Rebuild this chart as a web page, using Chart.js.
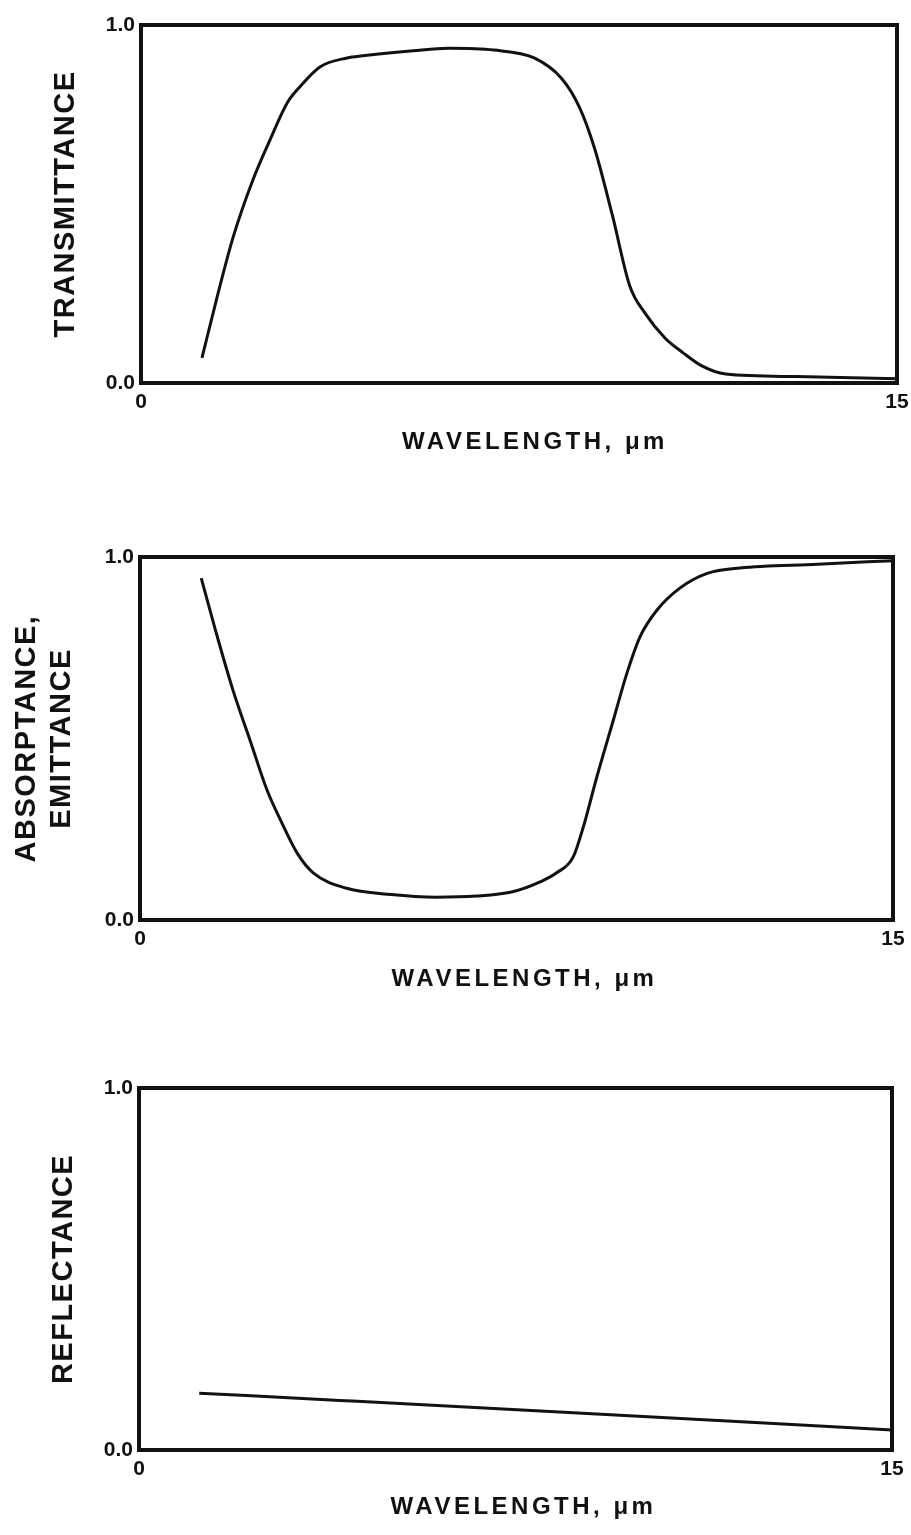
<!DOCTYPE html>
<html>
<head>
<meta charset="utf-8">
<script src="https://cdn.jsdelivr.net/npm/chart.js@4/dist/chart.umd.min.js"></script>
<style>
  body { margin: 0; background: #fff; width: 911px; height: 1535px; position: relative; overflow: hidden; }
  .panel { position: absolute; left: 0; width: 911px; }
</style>
</head>
<body>
<div class="panel" id="p1" style="top:0px;height:456px"><canvas id="c1"></canvas></div>
<div class="panel" id="p2" style="top:530px;height:463px"><canvas id="c2"></canvas></div>
<div class="panel" id="p3" style="top:1060px;height:461px"><canvas id="c3"></canvas></div>
<script>
// wavelength (um) and curve values
var transX = [1.21, 1.51, 1.83, 2.22, 2.56, 2.9, 3.15, 3.55, 4.09, 4.4, 5.4, 6.1, 7.0, 7.8, 8.35, 8.7, 9.0, 9.35, 9.7, 10.0, 10.4, 10.75, 11.1, 11.6, 13.0, 15.0]
var transY = [0.07, 0.24, 0.408, 0.567, 0.679, 0.782, 0.827, 0.883, 0.908, 0.914, 0.928, 0.935, 0.93, 0.908, 0.85, 0.77, 0.655, 0.47, 0.27, 0.195, 0.125, 0.085, 0.05, 0.025, 0.018, 0.012]

var absX = [1.22, 1.5, 1.85, 2.2, 2.53, 2.8, 3.15, 3.45, 4.1, 5.0, 5.9, 6.7, 7.4, 7.97, 8.3, 8.63, 8.83, 9.1, 9.43, 9.7, 9.96, 10.3, 10.76, 11.3, 11.95, 13.5, 15.0]
var absY = [0.942, 0.8, 0.634, 0.492, 0.358, 0.275, 0.18, 0.13, 0.088, 0.07, 0.063, 0.066, 0.077, 0.105, 0.13, 0.174, 0.256, 0.394, 0.551, 0.68, 0.78, 0.854, 0.915, 0.955, 0.97, 0.98, 0.99]

var reflX = [1.2, 4.0, 8.0, 12.0, 15.0]
var reflY = [0.157, 0.137, 0.108, 0.078, 0.055]

var xTicks = [0, 15]
var yTicks = [0, 1]
var xTitle = 'WAVELENGTH, \u03bcm'

function toPoints(xs, ys) {
    var pts = []
    for (var i = 0; i < xs.length; ++i) {
        pts.push({ x: xs[i], y: ys[i] })
    }
    return pts
}

// draw an axis title with extra letter spacing (stencil lettering), nudged by dx
function spacedTitle(px, dx) {
    return function (scale) {
        if (scale._spaced) return
        scale._spaced = true
        var draw = scale.drawTitle
        scale.drawTitle = function () {
            var ctx = this.ctx
            ctx.save()
            ctx.translate(dx, 0)
            ctx.letterSpacing = px + 'px'
            draw.call(this)
            ctx.letterSpacing = '0px'
            ctx.restore()
        }
    }
}

var boxPlugin = {
    id: 'box',
    afterDatasetsDraw: function (chart) {
        var a = chart.chartArea
        var ctx = chart.ctx
        ctx.save()
        ctx.lineWidth = 4
        ctx.strokeStyle = '#111'
        ctx.strokeRect(a.left, a.top, a.right - a.left, a.bottom - a.top)
        ctx.restore()
    }
}

function makeChart(id, xs, ys, yTitle, lay) {
    return new Chart(document.getElementById(id), {
        type: 'line',
        data: {
            datasets: [{
                data: toPoints(xs, ys),
                borderColor: '#111',
                borderWidth: 3,
                pointRadius: 0,
                fill: false,
                cubicInterpolationMode: 'monotone'
            }]
        },
        options: {
            responsive: true,
            maintainAspectRatio: false,
            animation: false,
            layout: { padding: { top: lay.top, right: lay.right, left: 0, bottom: 0 } },
            plugins: { legend: { display: false }, tooltip: { enabled: false } },
            scales: {
                x: {
                    type: 'linear',
                    min: 0,
                    max: 15,
                    grid: { display: false, drawTicks: false },
                    border: { display: false },
                    afterBuildTicks: function (scale) {
                        scale.ticks = xTicks.map(function (v) { return { value: v } })
                    },
                    afterFit: function (scale) {
                        scale.height = lay.xHeight
                        scale.paddingLeft = 0
                        scale.paddingRight = 0
                    },
                    afterUpdate: spacedTitle(3.5, lay.titleDx),
                    ticks: {
                        padding: 7,
                        color: '#111',
                        maxRotation: 0,
                        font: { family: 'Liberation Sans', size: 21, weight: 'bold' },
                        callback: function (v) { return String(v) }
                    },
                    title: {
                        display: true,
                        text: xTitle,
                        color: '#111',
                        padding: { top: 0, bottom: 0 },
                        font: { family: 'Liberation Sans', size: 24, weight: 'bold', lineHeight: 1.1 }
                    }
                },
                y: {
                    min: 0,
                    max: 1,
                    grid: { display: false, drawTicks: false },
                    border: { display: false },
                    afterBuildTicks: function (scale) {
                        scale.ticks = yTicks.map(function (v) { return { value: v } })
                    },
                    afterFit: function (scale) {
                        scale.width = lay.left
                    },
                    afterUpdate: spacedTitle(1.5, 0),
                    ticks: {
                        padding: 6,
                        color: '#111',
                        font: { family: 'Liberation Sans', size: 21, weight: 'bold' },
                        callback: function (v) { return Number(v).toFixed(1) }
                    },
                    title: {
                        display: true,
                        text: yTitle,
                        color: '#111',
                        padding: { top: lay.titlePad, bottom: 0 },
                        font: { family: 'Liberation Sans', size: 29, weight: 'bold', lineHeight: 1.2 }
                    }
                }
            }
        },
        plugins: [boxPlugin]
    })
}

var chart1 = makeChart('c1', transX, transY, 'TRANSMITTANCE',
    { top: 25, right: 14, left: 141, xHeight: 456 - 383, titlePad: 48.6, titleDx: 16 })
var chart2 = makeChart('c2', absX, absY, ['ABSORPTANCE,', 'EMITTANCE'],
    { top: 27, right: 18, left: 140, xHeight: 463 - 390, titlePad: 9.6, titleDx: 8 })
var chart3 = makeChart('c3', reflX, reflY, 'REFLECTANCE',
    { top: 28, right: 19, left: 139, xHeight: 461 - 390, titlePad: 46.6, titleDx: 8 })
</script>
</body>
</html>
